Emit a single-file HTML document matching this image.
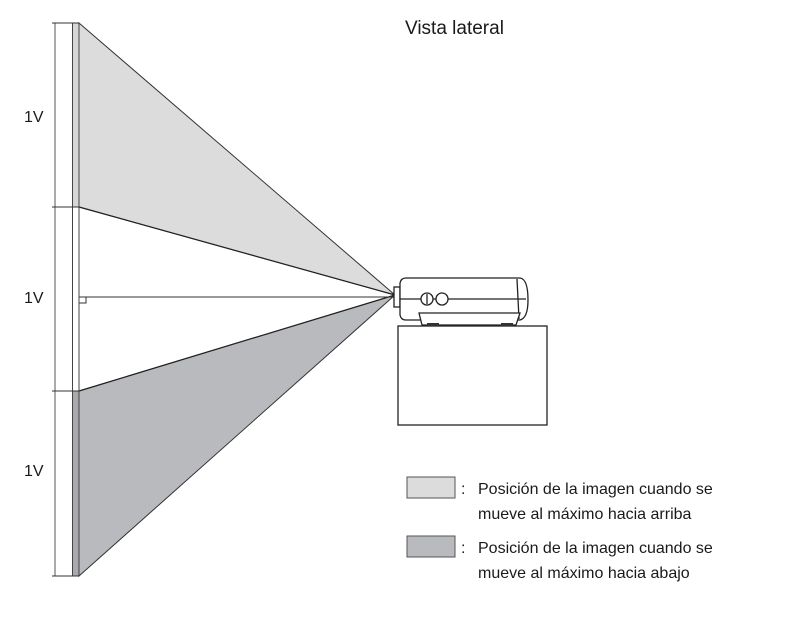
<!DOCTYPE html>
<html><head><style>
body{margin:0;background:#fff;}
svg{display:block;}
text{font-family:"Liberation Sans",sans-serif;fill:#1a1a1a;}
</style></head><body>
<svg width="800" height="617" viewBox="0 0 800 617">
<polygon points="79,23 395,295 79,207" fill="#dcdcdd" stroke="#333" stroke-width="1"/>
<polygon points="79,391 395,295 79,576" fill="#b9babd" stroke="#333" stroke-width="1"/>
<line x1="79" y1="207" x2="395" y2="295" stroke="#222" stroke-width="1.2"/>
<line x1="79" y1="391" x2="395" y2="295" stroke="#222" stroke-width="1.2"/>
<line x1="79" y1="297" x2="395" y2="297" stroke="#333" stroke-width="1"/>
<polyline points="79,303 86,303 86,297" fill="none" stroke="#333" stroke-width="1"/>
<rect x="72.5" y="23" width="6.5" height="184" fill="#d6d6d8"/>
<rect x="72.5" y="391" width="6.5" height="185" fill="#a9aaae"/>
<line x1="72.5" y1="23" x2="72.5" y2="576" stroke="#444" stroke-width="1"/>
<line x1="79" y1="23" x2="79" y2="576" stroke="#444" stroke-width="1"/>
<line x1="55" y1="23" x2="55" y2="576" stroke="#555" stroke-width="1"/>
<g stroke="#333" stroke-width="1">
<line x1="52" y1="23" x2="79" y2="23"/><line x1="52" y1="207" x2="79" y2="207"/>
<line x1="52" y1="391" x2="79" y2="391"/><line x1="52" y1="576" x2="79" y2="576"/>
</g>
<text x="24" y="122" font-size="16">1V</text>
<text x="24" y="303" font-size="16">1V</text>
<text x="24" y="476" font-size="16">1V</text>
<text x="405" y="34" font-size="19">Vista lateral</text>
<g fill="#fff" stroke="#222" stroke-width="1.3">
<rect x="394" y="287" width="6" height="20"/>
<path d="M400,283 Q401,278 406,278 L520,278 Q528,279 528,300 Q528,318 520,320 L406,320 Q401,320 400,315 Z"/>
<line x1="400" y1="299" x2="526" y2="299"/>
<line x1="517" y1="279" x2="519" y2="319"/>
<path d="M419,313 L520,313 L516,325 L422,325 Z"/>
<circle cx="427" cy="299" r="6"/><circle cx="442" cy="299" r="6"/>
<line x1="427" y1="294" x2="427" y2="304"/>
<rect x="398" y="326" width="149" height="99"/>
</g>
<rect x="427" y="323" width="12" height="3" fill="#333"/>
<rect x="501" y="323" width="12" height="3" fill="#333"/>
<rect x="407" y="477" width="48" height="21" fill="#dcdcdd" stroke="#555"/>
<rect x="407" y="536" width="48" height="21" fill="#b9babd" stroke="#555"/>
<text x="461" y="494" font-size="16">:</text>
<text x="461" y="553" font-size="16">:</text>
<text x="478" y="494" font-size="16">Posición de la imagen cuando se</text>
<text x="478" y="519" font-size="16">mueve al máximo hacia arriba</text>
<text x="478" y="553" font-size="16">Posición de la imagen cuando se</text>
<text x="478" y="578" font-size="16">mueve al máximo hacia abajo</text>
</svg>
</body></html>
